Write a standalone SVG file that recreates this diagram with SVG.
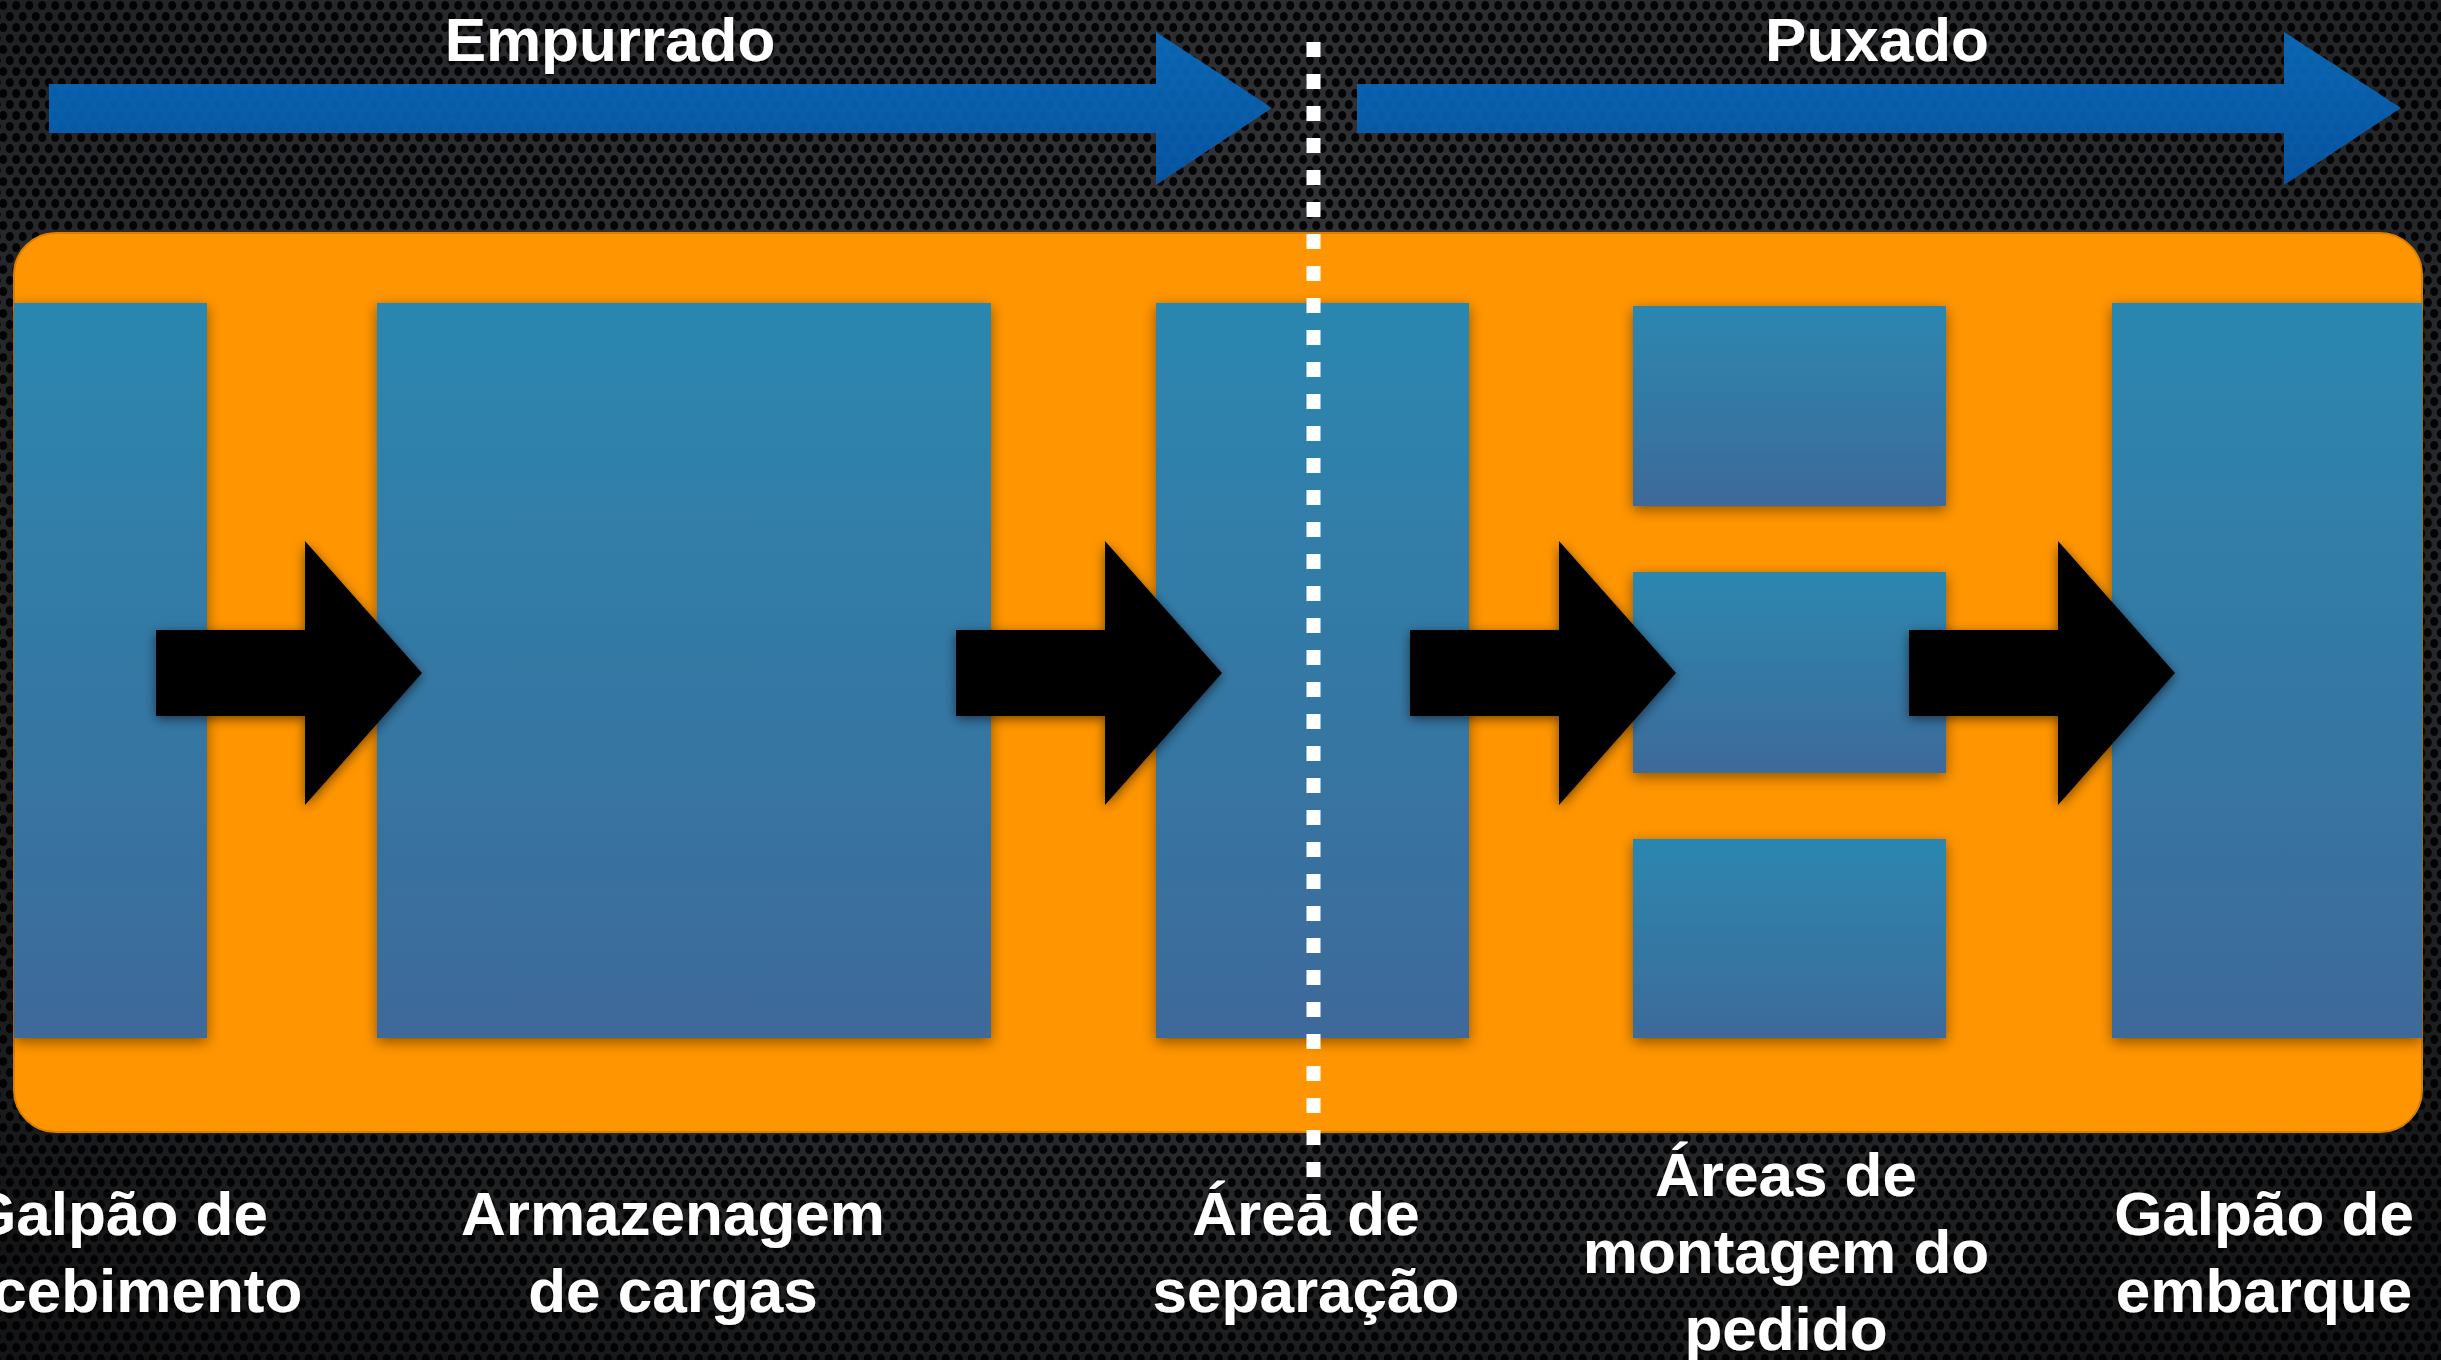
<svg xmlns="http://www.w3.org/2000/svg" width="2441" height="1360" viewBox="0 0 2441 1360">
<defs>
  <pattern id="mesh" x="0" y="0" width="13" height="22" patternUnits="userSpaceOnUse">
    <rect width="13" height="22" fill="#3a3c40"/>
    <ellipse cx="3.25" cy="5.5" rx="4" ry="4.6" fill="#050505"/>
    <ellipse cx="9.75" cy="16.5" rx="4" ry="4.6" fill="#050505"/>
    <ellipse cx="9.75" cy="-5.5" rx="4" ry="4.6" fill="#050505"/>
    <ellipse cx="-3.25" cy="16.5" rx="4" ry="4.6" fill="#050505"/>
    <ellipse cx="16.25" cy="5.5" rx="4" ry="4.6" fill="#050505"/>
    <ellipse cx="3.25" cy="27.5" rx="4" ry="4.6" fill="#050505"/>
  </pattern>
  <radialGradient id="vignette" cx="0.5" cy="0.35" r="0.75">
    <stop offset="0" stop-color="#000" stop-opacity="0.05"/>
    <stop offset="0.7" stop-color="#000" stop-opacity="0.35"/>
    <stop offset="1" stop-color="#000" stop-opacity="0.65"/>
  </radialGradient>
  <linearGradient id="boxGrad" x1="0" y1="0" x2="0" y2="1">
    <stop offset="0" stop-color="#2b87b0"/>
    <stop offset="1" stop-color="#3d6a9a"/>
  </linearGradient>
  <linearGradient id="blueArrow" x1="0" y1="0" x2="0" y2="1">
    <stop offset="0" stop-color="#0a6cbd"/>
    <stop offset="1" stop-color="#0558aa"/>
  </linearGradient>
  <filter id="shadow" x="-20%" y="-20%" width="140%" height="140%">
    <feDropShadow dx="0" dy="4" stdDeviation="7" flood-color="#000" flood-opacity="0.45"/>
  </filter>
  <filter id="arrowShadow" x="-20%" y="-20%" width="140%" height="140%">
    <feDropShadow dx="0" dy="3" stdDeviation="6" flood-color="#000" flood-opacity="0.55"/>
  </filter>
  <filter id="textShadow" x="-10%" y="-20%" width="120%" height="140%">
    <feDropShadow dx="0" dy="2" stdDeviation="2" flood-color="#000" flood-opacity="0.7"/>
  </filter>
  <path id="blackArrowShape" d="M0,-43 H149 V-132 L266,0 L149,132 V43 H0 Z"/>
</defs>
<style>
  .lbl { font-family: "Liberation Sans", Arial, Helvetica, sans-serif; font-weight: bold; font-size: 62px; fill: #ffffff; text-anchor: middle; }
  .box { fill: url(#boxGrad); filter: url(#shadow); }
  .flow { fill: #000000; filter: url(#arrowShadow); }
  .phase { fill: url(#blueArrow); opacity: 0.93; }
</style>

<!-- background -->
<rect x="0" y="0" width="2441" height="1360" fill="url(#mesh)"/>
<rect x="0" y="0" width="2441" height="1360" fill="url(#vignette)"/>

<!-- phase arrows -->
<g id="phase-empurrado">
  <path class="phase" d="M49,84 H1156 V32 L1272,108 L1156,185 V133 H49 Z"/>
  <text class="lbl" x="610" y="61" filter="url(#textShadow)">Empurrado</text>
</g>
<g id="phase-puxado">
  <path class="phase" d="M1357,84 H2284 V32 L2401,108 L2284,185 V133 H1357 Z"/>
  <text class="lbl" x="1877" y="61" filter="url(#textShadow)">Puxado</text>
</g>

<!-- warehouse frame -->
<g id="warehouse">
  <rect x="14" y="233" width="2408" height="899" rx="42" ry="42" fill="#ff9500" stroke="#d98000" stroke-width="2"/>
</g>

<!-- nodes -->
<g id="node-recebimento">
  <rect class="box" x="14" y="303" width="193" height="735"/>
  <text class="lbl" x="118" y="1235" filter="url(#textShadow)">Galpão de</text>
  <text class="lbl" x="118" y="1312" filter="url(#textShadow)">recebimento</text>
</g>
<g id="node-armazenagem">
  <rect class="box" x="377" y="303" width="614" height="735"/>
  <text class="lbl" x="673" y="1235" filter="url(#textShadow)">Armazenagem</text>
  <text class="lbl" x="673" y="1312" filter="url(#textShadow)">de cargas</text>
</g>
<g id="node-separacao">
  <rect class="box" x="1156" y="303" width="313" height="735"/>
  <text class="lbl" x="1306" y="1235" filter="url(#textShadow)">Área de</text>
  <text class="lbl" x="1306" y="1312" filter="url(#textShadow)">separação</text>
</g>
<g id="node-montagem">
  <rect class="box" x="1633" y="306" width="313" height="200"/>
  <rect class="box" x="1633" y="572" width="313" height="201"/>
  <rect class="box" x="1633" y="839" width="313" height="199"/>
  <text class="lbl" x="1786" y="1196" filter="url(#textShadow)">Áreas de</text>
  <text class="lbl" x="1786" y="1273" filter="url(#textShadow)">montagem do</text>
  <text class="lbl" x="1786" y="1350" filter="url(#textShadow)">pedido</text>
</g>
<g id="node-embarque">
  <rect class="box" x="2112" y="303" width="310" height="735"/>
  <text class="lbl" x="2264" y="1235" filter="url(#textShadow)">Galpão de</text>
  <text class="lbl" x="2264" y="1312" filter="url(#textShadow)">embarque</text>
</g>

<!-- connectors -->
<g id="connectors">
  <use href="#blackArrowShape" class="flow" x="156" y="673"/>
  <use href="#blackArrowShape" class="flow" x="956" y="673"/>
  <use href="#blackArrowShape" class="flow" x="1410" y="673"/>
  <use href="#blackArrowShape" class="flow" x="1909" y="673"/>
</g>

<!-- push/pull divider -->
<g id="divider">
  <line x1="1313.5" y1="42" x2="1313.5" y2="1200" stroke="#ffffff" stroke-width="14" stroke-dasharray="15 17"/>
</g>
</svg>
